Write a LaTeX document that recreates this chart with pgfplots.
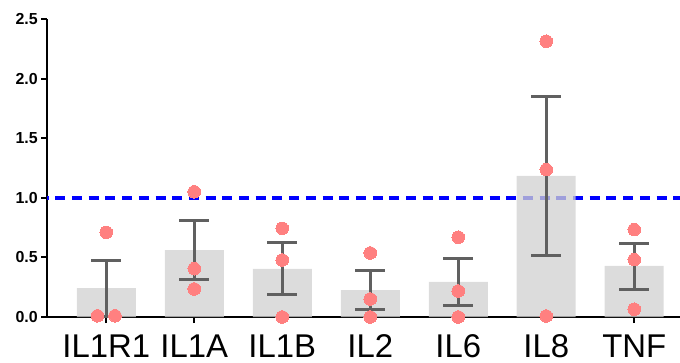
\documentclass[border=0pt]{standalone}
\usepackage{pgfplots}
\pgfplotsset{compat=1.18}
\usepackage{fontspec}
\setmainfont{Liberation Sans}
\definecolor{bargray}{RGB}{209,209,209}
\definecolor{errgray}{RGB}{96,96,96}
\definecolor{dotpink}{RGB}{255,128,128}
\begin{document}
\begin{tikzpicture}
\begin{axis}[
  scale only axis, width=632.7bp, height=298bp,
  xmin=-0.67, xmax=6.52, ymin=0, ymax=2.5,
  clip=false, unbounded coords=jump,
  axis x line*=bottom, axis y line*=left,
  axis line style={line width=2bp, black},
  xtick={0,...,6}, xticklabels={IL1R1,IL1A,IL1B,IL2,IL6,IL8,TNF},
  ytick={0,0.5,...,2.5},
  tick align=outside, major tick length=6bp,
  tick style={line width=2bp, black},
  yticklabel style={font=\bfseries\fontsize{16}{16}\selectfont},
  /pgf/number format/.cd, fixed, fixed zerofill, precision=1, assume math mode=true,
  /pgfplots/.cd,
  xticklabel style={font=\fontsize{33}{33}\selectfont, yshift=-8bp},
]
\coordinate (O) at (rel axis cs:0,0);
\coordinate (T) at (rel axis cs:1,1);
% reference line
\addplot[blue, line width=3.5bp, dash pattern=on 10bp off 6.7bp, dash phase=8.7bp] coordinates {(-0.67,1) (6.52,1)};
% bars (means)
\addplot[ybar, bar width=59bp, fill=bargray, fill opacity=0.765, draw=none] coordinates {
(0,0.243) (1,0.562) (2,0.403) (3,0.226) (4,0.294) (5,1.183) (6,0.428)};
% error bars: vertical stems
\addplot[errgray, line width=3bp, mark=none] coordinates {
(0,0.008) (0,0.478) (0,nan)
(1,0.316) (1,0.810) (1,nan)
(2,0.190) (2,0.627) (2,nan)
(3,0.065) (3,0.386) (3,nan)
(4,0.098) (4,0.492) (4,nan)
(5,0.517) (5,1.851) (5,nan)
(6,0.232) (6,0.618)};
% error bars: caps
\addplot[errgray, line width=3bp, mark=none] coordinates {
(-0.17,0.008) (0.17,0.008) (0,nan) (-0.17,0.478) (0.17,0.478) (0,nan)
(0.83,0.316) (1.17,0.316) (1,nan) (0.83,0.810) (1.17,0.810) (1,nan)
(1.83,0.190) (2.17,0.190) (2,nan) (1.83,0.627) (2.17,0.627) (2,nan)
(2.83,0.065) (3.17,0.065) (3,nan) (2.83,0.386) (3.17,0.386) (3,nan)
(3.83,0.098) (4.17,0.098) (4,nan) (3.83,0.492) (4.17,0.492) (4,nan)
(4.83,0.517) (5.17,0.517) (5,nan) (4.83,1.851) (5.17,1.851) (5,nan)
(5.83,0.232) (6.17,0.232) (6,nan) (5.83,0.618) (6.17,0.618)};
% individual points
\addplot[only marks, color=dotpink, mark=*, mark size=6.3bp, mark options={solid, draw=dotpink, fill=dotpink, line width=0pt}] coordinates {
(-0.1,0.01) (0.1,0.01) (0,0.71)
(1,1.05) (1,0.405) (1,0.235)
(2,0.744) (2,0.478) (2,0)
(3,0.537) (3,0.151) (3,0)
(4,0.669) (4,0.218) (4,0)
(5,2.313) (5,1.236) (5,0.008)
(6,0.733) (6,0.481) (6,0.065)};
\end{axis}
\pgfresetboundingbox
\path ([shift={(-47.3bp,-46bp)}]O) rectangle ([shift={(0bp,19bp)}]T);
\end{tikzpicture}
\end{document}
